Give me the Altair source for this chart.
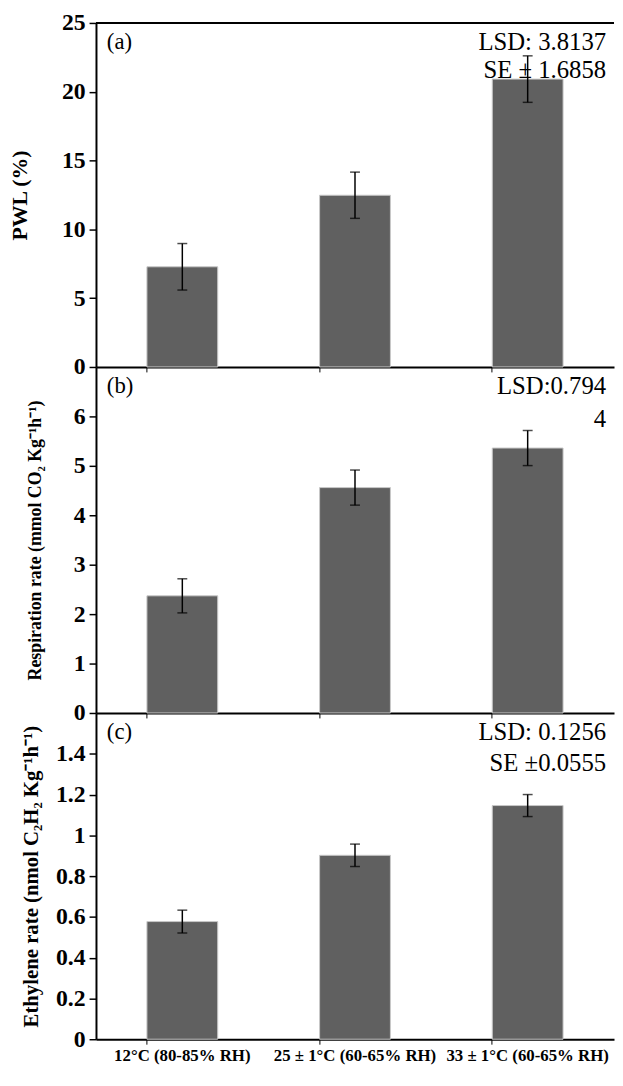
import altair as alt
import pandas as pd

categories = ["12°C (80-85% RH)", "25 ± 1°C (60-65% RH)", "33 ± 1°C (60-65% RH)"]

pwl_mean = [7.28, 12.48, 20.92]
pwl_se = [1.69, 1.68, 1.69]

resp_mean = [2.37, 4.56, 5.36]
resp_se = [0.345, 0.355, 0.355]

eth_mean = [0.577, 0.902, 1.146]
eth_se = [0.056, 0.055, 0.054]

pwl_ticks = [0, 5, 10, 15, 20, 25]
resp_ticks = [0, 1, 2, 3, 4, 5, 6]
eth_ticks = [0, 0.2, 0.4, 0.6, 0.8, 1, 1.2, 1.4]

notes_a = ["LSD: 3.8137", "SE ± 1.6858"]
notes_b = ["LSD:0.794", "4"]
notes_c = ["LSD: 0.1256", "SE ±0.0555"]

FONT = "Liberation Serif"
W = 524


def panel(mean, se, ymax, yvals, height, title, title_size, title_pad,
          tag, notes, note_gap, show_labels, top_line=False):
    df = pd.DataFrame({
        "cat": categories,
        "mean": mean,
        "lo": [m - s for m, s in zip(mean, se)],
        "hi": [m + s for m, s in zip(mean, se)],
    })
    xscale = alt.Scale(paddingInner=0.59, paddingOuter=0.295)
    x = alt.X("cat:N", sort=categories, title=None, scale=xscale,
              axis=alt.Axis(labels=show_labels, bandPosition=0, ticks=True,
                            tickSize=5, tickColor="black", tickWidth=1,
                            domainColor="black", domainWidth=2, labelAngle=0,
                            labelFont=FONT, labelFontWeight="bold",
                            labelFontSize=17, labelColor="black",
                            labelPadding=4))
    yscale = alt.Scale(domain=[0, ymax], nice=False, zero=True)
    y = alt.Y("mean:Q", scale=yscale, title=title,
              axis=alt.Axis(values=yvals, grid=False, tickSize=7,
                            tickColor="black", tickWidth=1.5,
                            domainColor="black", domainWidth=2,
                            format=".1~f",
                            labelFont=FONT, labelFontWeight="bold",
                            labelFontSize=24, labelColor="black",
                            labelPadding=4, titleFont=FONT,
                            titleFontWeight="bold", titleFontSize=title_size,
                            titleColor="black", titlePadding=title_pad))
    base = alt.Chart(df)
    bars = base.mark_bar(color="#606060", stroke="#c8c8c8",
                         strokeWidth=1).encode(x=x, y=y)
    err = base.mark_rule(color="black", strokeWidth=1.5).encode(
        x=alt.X("cat:N", sort=categories), y="lo:Q", y2="hi:Q")
    cap_lo = base.mark_tick(color="black", size=10, thickness=1.5).encode(
        x=alt.X("cat:N", sort=categories), y="lo:Q")
    cap_hi = base.mark_tick(color="black", size=10, thickness=1.5).encode(
        x=alt.X("cat:N", sort=categories), y="hi:Q")
    layers = [bars, err, cap_lo, cap_hi]

    tag_df = pd.DataFrame({"t": [tag]})
    layers.append(alt.Chart(tag_df).mark_text(
        font=FONT, fontSize=23, color="black", align="left",
        baseline="alphabetic").encode(text="t:N", x=alt.value(11),
                                      y=alt.value(26)))
    for i, n in enumerate(notes):
        ndf = pd.DataFrame({"t": [n]})
        layers.append(alt.Chart(ndf).mark_text(
            font=FONT, fontSize=25, color="black", align="right",
            baseline="alphabetic").encode(text="t:N", x=alt.value(W - 8),
                                          y=alt.value(27 + note_gap * i)))
    if top_line:
        ldf = pd.DataFrame({"t": [0]})
        layers.append(alt.Chart(ldf).mark_rule(color="black",
                                               strokeWidth=2).encode(
            x=alt.value(0), x2=alt.value(W), y=alt.value(0)))
    return alt.layer(*layers).properties(width=W, height=height)


pa = panel(pwl_mean, pwl_se, 25, pwl_ticks, 348, "PWL (%)", 22, 30,
           "(a)", notes_a, 29, False, top_line=True)
pb = panel(resp_mean, resp_se, 7, resp_ticks, 350,
           "Respiration rate (mmol CO₂ Kg⁻¹h⁻¹)", 18, 29,
           "(b)", notes_b, 34, False)
pc = panel(eth_mean, eth_se, 1.6, eth_ticks, 330,
           "Ethylene rate (nmol C₂H₂ Kg⁻¹h⁻¹)", 21, 14,
           "(c)", notes_c, 32, True)

chart = alt.vconcat(pa, pb, pc, spacing=0, bounds="flush").configure_view(
    stroke=None).properties(padding={"left": 1, "top": -3, "right": 0,
                                     "bottom": -1}, background="white")

chart.save("out.html", embed_options={"renderer": "svg", "actions": False})
